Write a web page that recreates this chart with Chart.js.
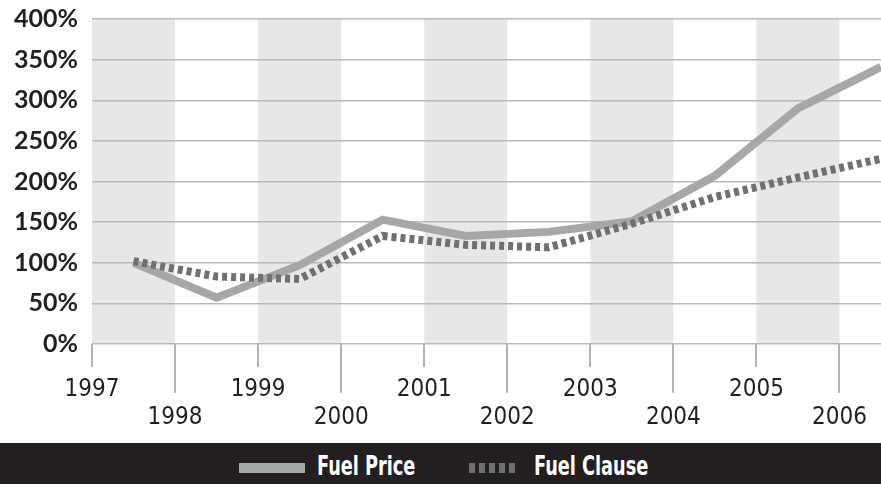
<!DOCTYPE html>
<html>
<head>
<meta charset="utf-8">
<script src="https://cdn.jsdelivr.net/npm/chart.js@4"></script>
<style>
  body { margin: 0; background: #fff; }
  #wrap { position: relative; width: 881px; height: 484px; overflow: hidden; }
  #legend { position: absolute; left: 0; top: 443px; width: 881px; height: 41px; background: #231f20; }
  .sw { position: absolute; }
  .lbl { position: absolute; color: #fff; font: bold 27px "DejaVu Sans Condensed", sans-serif; line-height: 41px; top: 2px; transform: scaleX(0.73); transform-origin: left center; white-space: nowrap; }
</style>
</head>
<body>
<div id="wrap">
  <canvas id="fuelChart" width="881" height="440"></canvas>
  <div id="legend">
    <div class="sw" style="left:239px; top:20px; width:66px; height:10px; background:#a6a7a9;"></div>
    <div class="lbl" style="left:317px;">Fuel Price</div>
    <div class="sw" style="left:469px; top:20px; width:50px; height:10px; background:repeating-linear-gradient(90deg,#6f7072 0 6px,transparent 6px 10px);"></div>
    <div class="lbl" style="left:534px;">Fuel Clause</div>
  </div>
</div>
<script>
// year boundaries on the x axis
const years = [1997, 1998, 1999, 2000, 2001, 2002, 2003, 2004, 2005, 2006];
// data points sit in the middle of each year
const periods = [1997.5, 1998.5, 1999.5, 2000.5, 2001.5, 2002.5, 2003.5, 2004.5, 2005.5, 2006.5];
const fuelPrice = [100, 57, 97, 153, 133, 138, 151, 207, 290, 341];
const fuelClause = [102, 83, 80, 133, 122, 119, 148, 181, 205, 228];
const yTicks = [0, 50, 100, 150, 200, 250, 300, 350, 400];

const toPoints = arr => arr.map((v, i) => ({ x: periods[i], y: v }));

// grey bands on every other year, plus the tick marks under the axis
const yearBands = {
   id: 'yearBands',
   beforeDraw(chart) {
      const { ctx, chartArea } = chart;
      const x = chart.scales.x;
      ctx.save();
      ctx.fillStyle = '#e6e7e8';
      years.forEach((yr, i) => {
         if (i % 2 !== 0) return;
         const x0 = x.getPixelForValue(yr);
         const x1 = Math.min(x.getPixelForValue(yr + 1), chartArea.right);
         ctx.fillRect(x0, chartArea.top, x1 - x0, chartArea.bottom - chartArea.top);
      });
      ctx.restore();
   },
   afterDraw(chart) {
      const { ctx, chartArea } = chart;
      const x = chart.scales.x;
      ctx.save();
      ctx.strokeStyle = '#b3b4b6';
      ctx.lineWidth = 2;
      years.forEach((yr, i) => {
         const px = Math.round(x.getPixelForValue(yr));
         ctx.beginPath();
         ctx.moveTo(px, chartArea.bottom);
         ctx.lineTo(px, chartArea.bottom + (i % 2 === 0 ? 23 : 49));
         ctx.stroke();
      });
      ctx.restore();
   }
};

const ctx = document.getElementById('fuelChart').getContext('2d');
new Chart(ctx, {
   type: 'line',
   data: {
      datasets: [{
         label: 'Fuel Price',
         data: toPoints(fuelPrice),
         borderColor: '#a6a7a9',
         borderWidth: 8,
         borderJoinStyle: 'miter',
         pointRadius: 0,
         tension: 0,
         order: 1
      }, {
         label: 'Fuel Clause',
         data: toPoints(fuelClause),
         borderColor: '#6f7072',
         borderWidth: 8,
         borderDash: [5, 4],
         borderCapStyle: 'butt',
         borderJoinStyle: 'miter',
         pointRadius: 0,
         tension: 0,
         order: 0
      }]
   },
   options: {
      responsive: false,
      animation: false,
      layout: { padding: { top: 19, right: 0, bottom: 0, left: 0 } },
      plugins: {
         legend: { display: false },
         tooltip: { enabled: false }
      },
      scales: {
         x: {
            type: 'linear',
            min: 1997,
            max: 2006.5,
            afterBuildTicks: s => { s.ticks = years.map(v => ({ value: v })); },
            afterFit: s => { s.height = 96; s.paddingLeft = 0; s.paddingRight = 0; },
            grid: { display: false },
            border: { display: false },
            ticks: {
               autoSkip: false,
               maxRotation: 0,
               padding: 23,
               color: '#231f20',
               font: { family: '"DejaVu Sans Condensed", sans-serif', size: 24, lineHeight: 1.2 },
               callback: (v) => {
                  const i = years.indexOf(v);
                  return i % 2 === 0 ? String(v) : ['', String(v)];
               }
            }
         },
         y: {
            min: 0,
            max: 400,
            afterBuildTicks: s => { s.ticks = yTicks.map(v => ({ value: v })); },
            afterFit: s => { s.width = 92; s.paddingTop = 0; s.paddingBottom = 0; },
            grid: { color: '#b8b9bb', lineWidth: 1.5, drawTicks: false },
            border: { display: false },
            ticks: {
               padding: 14,
               color: '#231f20',
               font: { family: 'Lato', size: 25, weight: 'bold' },
               callback: v => v + '%'
            }
         }
      }
   },
   plugins: [yearBands]
});
</script>
</body>
</html>
